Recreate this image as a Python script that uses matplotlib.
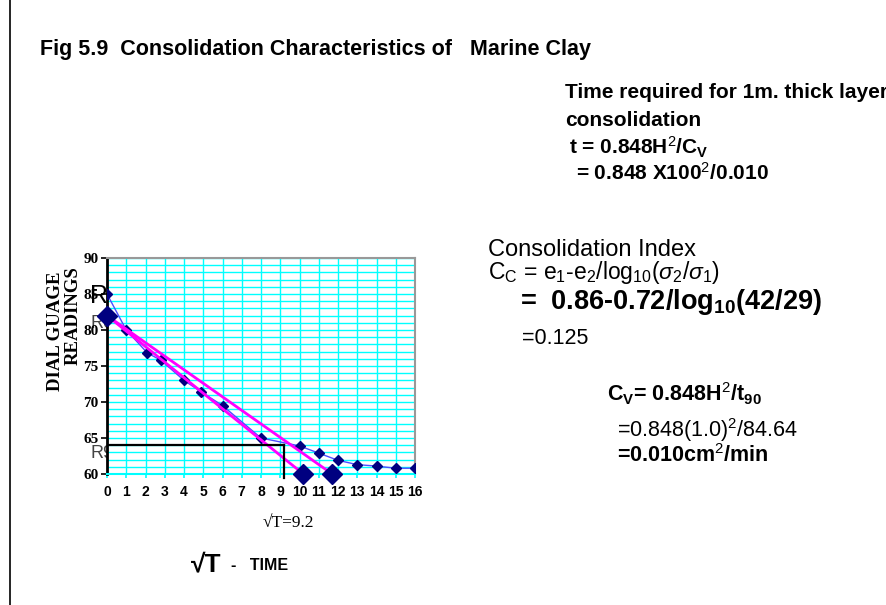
import numpy as np
import matplotlib.pyplot as plt
import matplotlib.lines as mlines

plt.rcParams['mathtext.fontset'] = 'custom'
plt.rcParams['mathtext.rm'] = 'Liberation Sans'
plt.rcParams['mathtext.it'] = 'Liberation Sans:italic'
plt.rcParams['mathtext.bf'] = 'Liberation Sans:bold'

# dial gauge readings against root time
sqrt_t = [0, 1, 2.1, 2.8, 4, 4.9, 6, 8, 10, 11, 12, 13, 14, 15, 16]
reading = [85, 80, 76.8, 75.8, 73, 71.4, 69.5, 65, 63.9, 62.9, 61.9, 61.3, 61.1, 60.8, 60.8]

# taylor construction: corrected zero and the two straight lines
r0 = 82
line1_end = 10.2
line2_end = 11.7
sqrt_t90 = 9.2
r90 = 64

xticks = list(range(0, 17))
yticks = [60, 65, 70, 75, 80, 85, 90]

fig = plt.figure(figsize=(8.86, 6.05), dpi=100)
ax = fig.add_axes([107/886, 1 - 474/605, 308/886, 216/605])

ax.set_xlim(0, 16)
ax.set_ylim(60, 90)
ax.set_xticks(xticks)
ax.set_yticks(yticks)
ax.set_yticks(range(60, 91), minor=True)
ax.tick_params(axis='y', which='minor', length=0)
ax.grid(True, which='major', axis='x', color='#00FFFF', lw=1.0, zorder=0)
ax.grid(True, which='both', axis='y', color='#00FFFF', lw=1.0, zorder=0)
ax.set_axisbelow(True)

for s in ['top', 'right']:
    ax.spines[s].set_color('#999999')
    ax.spines[s].set_linewidth(1.5)
ax.spines['left'].set_color('black')
ax.spines['left'].set_linewidth(2)
ax.spines['bottom'].set_color('#00FFFF')
ax.spines['bottom'].set_linewidth(1.5)

ax.tick_params(axis='y', which='major', length=4, width=1.2, color='black', pad=2)
ax.tick_params(axis='x', length=3, width=1.2, color='#00FFFF', pad=5)
for lb in ax.get_yticklabels():
    lb.set_fontfamily('Liberation Serif')
    lb.set_fontweight('bold')
    lb.set_fontsize(11)
for lb in ax.get_xticklabels():
    lb.set_fontfamily('Liberation Sans')
    lb.set_fontweight('bold')
    lb.set_fontsize(10)

# measured curve
ax.plot(sqrt_t, reading, color='#4D4DFF', lw=1, marker='D', ms=5.5,
        mfc='#000080', mec='#000080', zorder=3)

# construction lines
ax.plot([0, line1_end], [r0, 60], color='#FF00FF', lw=2, zorder=4)
ax.plot([0, line2_end], [r0, 60], color='#FF00FF', lw=2, zorder=4)
ax.plot([0, line1_end, line2_end], [r0, 60, 60], ls='none', marker='D', ms=10,
        mfc='#000080', mec='#000080', zorder=5, clip_on=False)

# t90 reading
ax.plot([0, sqrt_t90], [r90, r90], color='black', lw=1.6, zorder=4)
ax.plot([sqrt_t90, sqrt_t90], [r90, 59.5], color='black', lw=1.6, zorder=4, clip_on=False)

# page edge
fig.add_artist(mlines.Line2D([10/886, 10/886], [0, 1], color='black', lw=1.2))

# axis labels
fig.text(55/886, 1 - 331/605, 'DIAL GUAGE', rotation=90, ha='center', va='center',
         family='Liberation Serif', weight='bold', fontsize=13.5)
fig.text(73/886, 1 - 316/605, 'READINGS', rotation=90, ha='center', va='center',
         family='Liberation Serif', weight='bold', fontsize=13.5)

fig.text(90/886, 1 - 296/605, 'R', ha='left', va='center', family='Liberation Sans',
         fontsize=18, zorder=5)
fig.text(90/886, 1 - 324/605, 'R0', ha='left', va='center', family='Liberation Sans',
         fontsize=13, color='#444444', zorder=-1)
fig.text(90/886, 1 - 453/605, 'R9', ha='left', va='center', family='Liberation Sans',
         fontsize=13, color='#444444', zorder=-1)

fig.text(288/886, 1 - 523/605, '\u221aT=9.2', ha='center', va='center',
         family='Liberation Serif', fontsize=12.5)
fig.text(191/886, 1 - 564/605, '\u221aT', ha='left', va='center',
         family='Liberation Sans', weight='bold', fontsize=19)
fig.text(231/886, 1 - 566/605, '-   TIME', ha='left', va='center',
         family='Liberation Sans', weight='bold', fontsize=11.5)

# title
fig.text(40/886, 1 - 50/605, 'Fig 5.9  Consolidation Characteristics of   Marine Clay',
         ha='left', va='center', family='Liberation Sans', weight='bold', fontsize=15.5)

# time for a 1 m layer
bold_sans = dict(ha='left', va='center', family='Liberation Sans', weight='bold')
fig.text(565/886, 1 - 93/605, 'Time required for 1m. thick layer', fontsize=15, **bold_sans)
fig.text(565/886, 1 - 121/605, 'consolidation', fontsize=15, **bold_sans)
fig.text(569/886, 1 - 147/605, r't = 0.848H$^2$/C$_\mathbf{V}$', fontsize=15, **bold_sans)
fig.text(576/886, 1 - 173/605, r'= 0.848 X100$^2$/0.010', fontsize=15, **bold_sans)

# compression index
reg_sans = dict(ha='left', va='center', family='Liberation Sans')
fig.text(488/886, 1 - 250/605, 'Consolidation Index', fontsize=17, **reg_sans)
fig.text(488/886, 1 - 273/605,
         r'C$_\mathrm{C}$ = e$_1$-e$_2$/log$_{10}$($\sigma_2$/$\sigma_1$)',
         fontsize=16.5, **reg_sans)
fig.text(520/886, 1 - 302/605, r'=  0.86-0.72/log$_{\mathbf{10}}$(42/29)',
         fontsize=19.5, **bold_sans)
fig.text(522/886, 1 - 338/605, '=0.125', fontsize=15.5, **reg_sans)

# coefficient of consolidation
fig.text(607/886, 1 - 394/605, r'C$_\mathbf{V}$= 0.848H$^2$/t$_{\mathbf{90}}$',
         fontsize=15.5, **bold_sans)
fig.text(617/886, 1 - 430/605, r'=0.848(1.0)$^2$/84.64', fontsize=15.5, **reg_sans)
fig.text(617/886, 1 - 456/605, r'=0.010cm$^2$/min', fontsize=15.5, **bold_sans)

fig.savefig('out.png', dpi=100)
